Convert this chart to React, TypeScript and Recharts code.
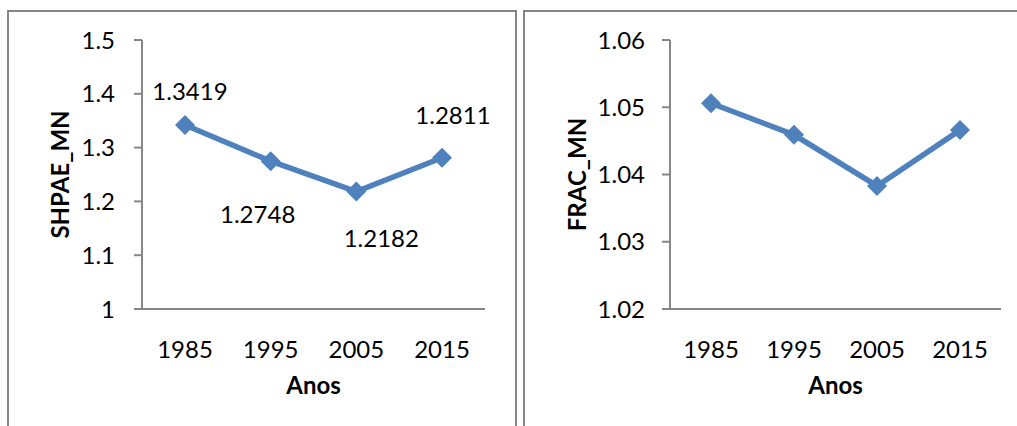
import React from "react";
import {
  LineChart,
  Line,
  XAxis,
  YAxis,
  Label,
  LabelList,
} from "recharts";

const years = ["1985", "1995", "2005", "2015"];
const shapeMean = [1.3419, 1.2748, 1.2182, 1.2811];
const fracMean = [1.0506, 1.0459, 1.0383, 1.0466];
const shapeTicks = [1, 1.1, 1.2, 1.3, 1.4, 1.5];
const fracTicks = [1.02, 1.03, 1.04, 1.05, 1.06];

const LINE = "#4F81BD";
const AXIS = "#868686";
const FONT = "Lato, 'Liberation Sans', sans-serif";
const FS = 24;

const shapeData = years.map((y, i) => ({ year: y, value: shapeMean[i] }));
const fracData = years.map((y, i) => ({ year: y, value: fracMean[i] }));

// where excel put each data label, relative to its point
const labelOffsets = [
  [5, -35],
  [-13, 52],
  [25, 46],
  [11, -43],
];

const Diamond = (props: any) => {
  const { cx, cy } = props;
  if (cx == null || cy == null) return null;
  const r = 10;
  return (
    <polygon
      points={`${cx},${cy - r} ${cx + r},${cy} ${cx},${cy + r} ${cx - r},${cy}`}
      fill={LINE}
    />
  );
};

const ValueLabel = (props: any) => {
  const { x, y, value, index } = props;
  const [dx, dy] = labelOffsets[index] || [0, 0];
  return (
    <text
      x={x + dx}
      y={y + dy}
      textAnchor="middle"
      dominantBaseline="central"
      fontSize={FS}
      fontFamily={FONT}
      fill="#000"
    >
      {value}
    </text>
  );
};

const tickStyle = { fontSize: FS, fontFamily: FONT, fill: "#000" };
const titleStyle = {
  fontSize: FS,
  fontFamily: FONT,
  fontWeight: 700,
  fill: "#000",
  textAnchor: "middle" as const,
};

function Panel(props: {
  data: { year: string; value: number }[];
  width: number;
  yWidth: number;
  right: number;
  pad: number;
  domain: [number, number];
  ticks: number[];
  tickMargin: number;
  yTitle: string;
  yTitleX: number;
  labels?: boolean;
}) {
  const p = props;
  return (
    <LineChart
      width={p.width}
      height={426}
      data={p.data}
      margin={{ top: 40, right: p.right, bottom: 32, left: 0 }}
    >
      <XAxis
        dataKey="year"
        height={85}
        padding={{ left: p.pad, right: p.pad }}
        tickLine={false}
        tickMargin={26}
        stroke={AXIS}
        strokeWidth={2}
        tick={tickStyle}
      >
        <Label
          value="Anos"
          position="insideBottom"
          offset={0}
          style={titleStyle}
        />
      </XAxis>
      <YAxis
        width={p.yWidth}
        domain={p.domain}
        ticks={p.ticks}
        interval={0}
        tickSize={8}
        tickMargin={p.tickMargin}
        stroke={AXIS}
        strokeWidth={2}
        tick={tickStyle}
      >
        <Label
          value={p.yTitle}
          angle={-90}
          position="insideLeft"
          offset={p.yTitleX}
          style={titleStyle}
        />
      </YAxis>
      <Line
        dataKey="value"
        stroke={LINE}
        strokeWidth={5.5}
        dot={<Diamond />}
        activeDot={false}
        isAnimationActive={false}
      >
        {p.labels && <LabelList dataKey="value" content={<ValueLabel />} />}
      </Line>
    </LineChart>
  );
}

export default function App() {
  return (
    <div
      style={{
        position: "fixed",
        left: 0,
        top: 0,
        width: 1017,
        height: 426,
        background: "#fff",
        overflow: "hidden",
      }}
    >
      <div
        style={{
          position: "absolute",
          left: 7,
          top: 10,
          width: 506,
          height: 440,
          border: `2px solid ${AXIS}`,
        }}
      />
      <div
        style={{
          position: "absolute",
          left: 523,
          top: 10,
          width: 520,
          height: 440,
          border: `2px solid ${AXIS}`,
        }}
      />
      <div style={{ position: "absolute", left: 0, top: 0 }}>
        <Panel
          data={shapeData}
          width={520}
          yWidth={142}
          right={35}
          pad={43}
          domain={[1, 1.5]}
          ticks={shapeTicks}
          tickMargin={19}
          yTitle="SHPAE_MN"
          yTitleX={60}
          labels
        />
      </div>
      <div style={{ position: "absolute", left: 520, top: 0 }}>
        <Panel
          data={fracData}
          width={497}
          yWidth={150}
          right={16}
          pad={41}
          domain={[1.02, 1.06]}
          ticks={fracTicks}
          tickMargin={17}
          yTitle="FRAC_MN"
          yTitleX={57}
        />
      </div>
    </div>
  );
}
